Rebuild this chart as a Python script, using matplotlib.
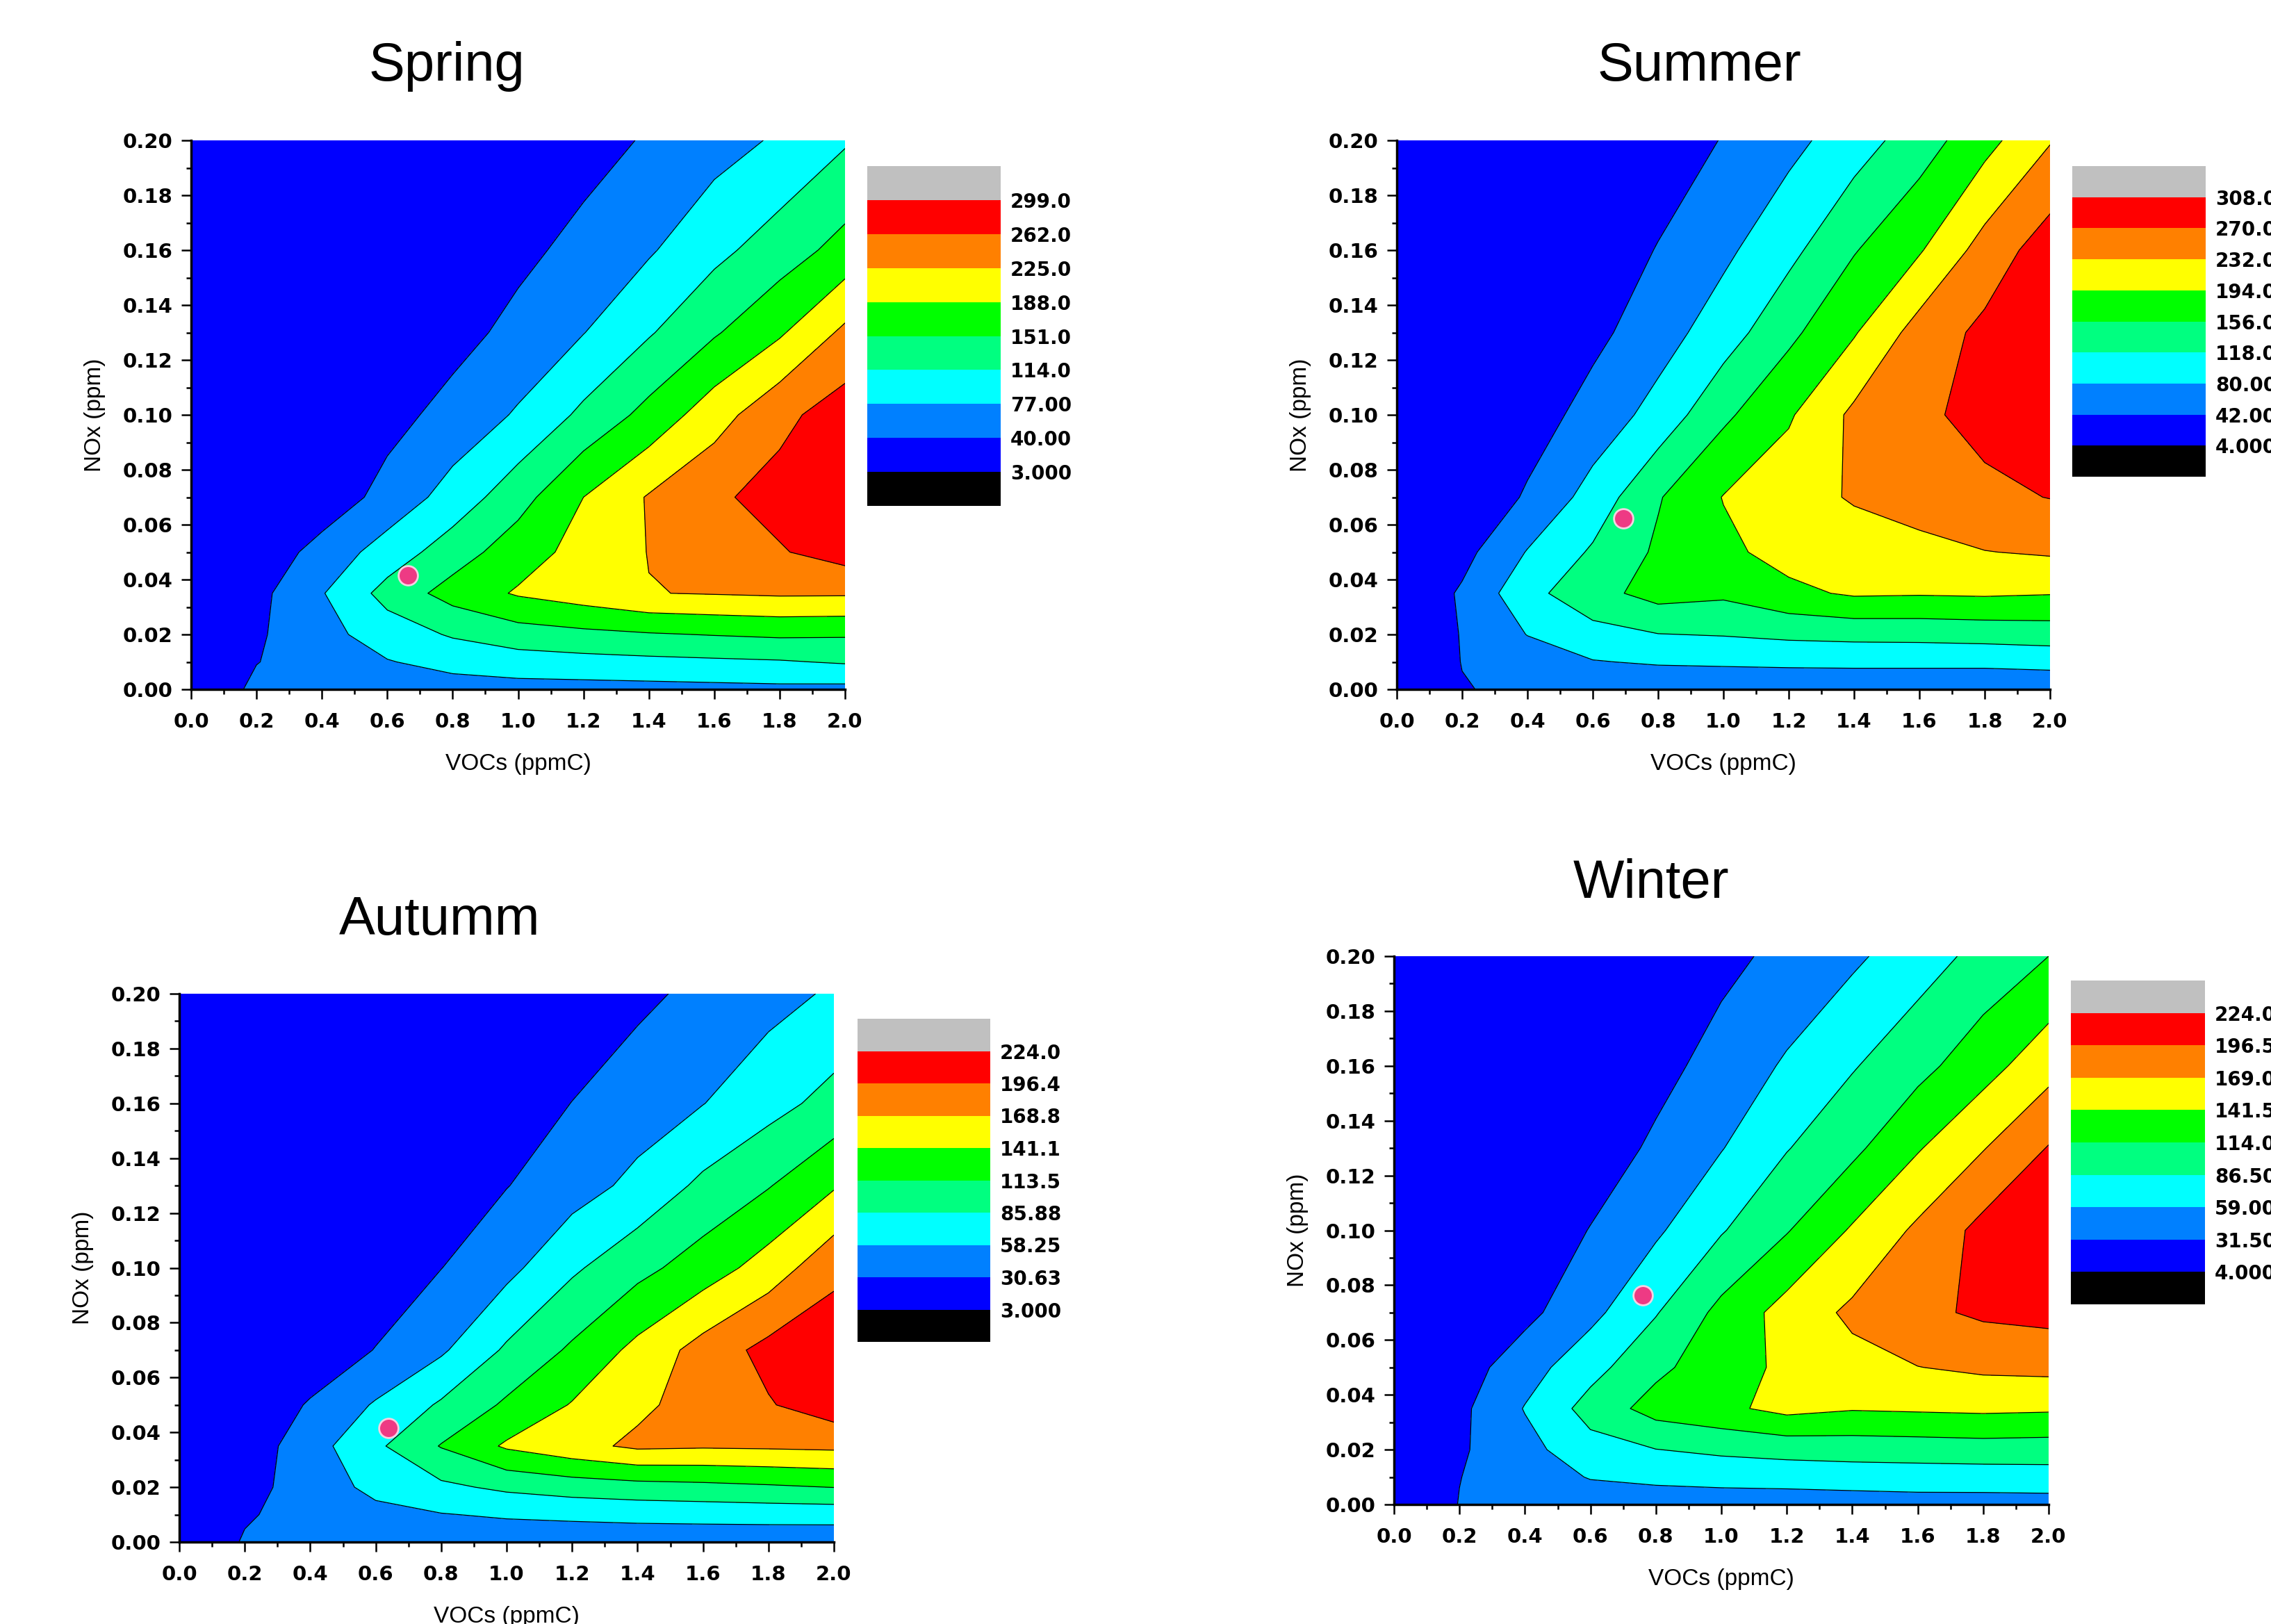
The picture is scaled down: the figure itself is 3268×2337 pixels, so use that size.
import numpy as np
import matplotlib
matplotlib.use('Agg')
import matplotlib.pyplot as plt
from matplotlib.colors import ListedColormap
from matplotlib.ticker import MultipleLocator

# grid of the isopleth diagrams
voc = [0.0, 0.2, 0.4, 0.6, 0.8, 1.0, 1.2, 1.4, 1.6, 1.8, 2.0]          # ppmC
nox = [0.0, 0.01, 0.02, 0.035, 0.05, 0.07, 0.10, 0.13, 0.16, 0.20]     # ppm

# O3 values (rows = NOx, columns = VOCs)
spring_o3 = [
    [8, 48, 50, 58, 61, 63.7, 63.8, 65, 66.7, 68.5, 67],
    [8, 39, 56.4, 75, 89, 97, 101.5, 105, 108, 111, 117.5],
    [8, 35, 64.7, 95, 117.8, 134.5, 142, 148, 152.6, 156.6, 155],
    [8, 29, 74.6, 127, 165.6, 192, 207, 224, 227, 230, 229.5],
    [6, 14, 54, 93, 133, 171, 201, 226, 242.6, 259, 278],
    [6, 6, 16, 53, 91.6, 136.5, 188, 228, 256, 275, 288],
    [6, 6, 6, 27, 53, 81, 122, 162.6, 209, 252.5, 280],
    [6, 6, 6, 6, 26.5, 51, 76, 110.5, 147, 183, 233],
    [6, 6, 6, 6, 9, 30.5, 51.6, 73, 104, 132.5, 164],
    [6, 6, 6, 6, 8, 8, 25, 44, 62, 82, 110],
]
summer_o3 = [
    [6, 40, 50, 50, 50, 50, 50, 50, 50, 50, 50],
    [6, 43, 60, 78, 84, 86, 88, 89, 89, 89, 93],
    [6, 44, 81, 105, 117, 120, 126, 129, 130, 133, 136],
    [6, 47, 106, 143, 170, 163, 185, 199, 197.3, 199, 196],
    [6, 30, 82, 123, 162, 185.4, 208, 213.6, 222, 231, 236],
    [6, 6, 47, 94.5, 153, 195.4, 217, 235.5, 247, 262, 271],
    [6, 6, 22.5, 56.7, 93.4, 148.4, 189.4, 240, 263, 281, 296],
    [6, 6, 6, 32, 63.4, 99.5, 147, 190.7, 248, 279, 298],
    [6, 6, 6, 16, 44, 72, 107.5, 153.5, 190.4, 247.6, 290],
    [6, 6, 6, 6, 19, 44, 69, 100, 137.7, 181, 229.5],
]
autumn_o3 = [
    [6, 33, 38, 40, 40, 40, 40, 40, 40, 40, 40],
    [6, 28, 40, 50, 57, 61.6, 64.2, 66.7, 67.9, 68.8, 69.2],
    [6, 22, 42, 66, 80.2, 91.2, 98.6, 103, 105.9, 109.7, 114],
    [6, 14, 46.4, 80.5, 115, 145, 160, 174, 172, 173.1, 174.8],
    [6, 6, 33.6, 61, 89.5, 117.9, 142.9, 163.4, 179.5, 194.2, 212],
    [6, 6, 9.7, 31.7, 54.1, 90, 117.8, 148.9, 179.5, 205, 215],
    [6, 6, 6, 10, 30.2, 50.2, 81.4, 105.1, 126.8, 152.9, 189],
    [6, 6, 6, 6, 13, 29.8, 46, 65.5, 91.9, 111.9, 138.4],
    [6, 6, 6, 6, 6, 17.4, 31, 44.2, 57.6, 76.3, 95],
    [6, 6, 6, 6, 6, 6, 13.3, 25, 36.9, 48.6, 62],
]
winter_o3 = [
    [6, 32.3, 40, 44, 44, 44, 44, 46, 48, 48, 48],
    [6, 31, 45, 60.5, 65.4, 68.6, 70.3, 71.7, 72.6, 73.1, 74.9],
    [6, 28, 50, 76.7, 86, 91.9, 96, 98.5, 99.9, 101.6, 100.5],
    [6, 25, 60.4, 96.8, 125, 135, 150, 143.6, 145.3, 147, 145.4],
    [6, 18.2, 47.1, 77, 107.4, 130.3, 146.6, 160, 168.5, 174, 176],
    [6, 6, 24, 51.3, 84.7, 121.7, 152, 174.5, 190.2, 201, 205],
    [6, 6, 10.6, 32.6, 54.6, 84.3, 112.2, 144.5, 174, 205, 215],
    [6, 6, 6, 15.3, 36.5, 57.7, 85.1, 107.4, 139.2, 167.6, 198],
    [6, 6, 6, 6, 22.3, 42.1, 62.3, 84.3, 105.3, 130.7, 159],
    [6, 6, 6, 6, 9, 24, 39, 53.9, 73.8, 94.8, 114],
]

spring_levels = [3, 40, 77, 114, 151, 188, 225, 262, 299]
summer_levels = [4, 42, 80, 118, 156, 194, 232, 270, 308]
autumn_levels = [3, 30.625, 58.25, 85.875, 113.5, 141.125, 168.75, 196.375, 224]
winter_levels = [4, 31.5, 59, 86.5, 114, 141.5, 169, 196.5, 224]

spring_labels = ['3.000', '40.00', '77.00', '114.0', '151.0', '188.0', '225.0', '262.0', '299.0']
summer_labels = ['4.000', '42.00', '80.00', '118.0', '156.0', '194.0', '232.0', '270.0', '308.0']
autumn_labels = ['3.000', '30.63', '58.25', '85.88', '113.5', '141.1', '168.8', '196.4', '224.0']
winter_labels = ['4.000', '31.50', '59.00', '86.50', '114.0', '141.5', '169.0', '196.5', '224.0']

# observed point (VOCs, NOx)
spring_pt = (0.663, 0.0414)
summer_pt = (0.693, 0.0622)
autumn_pt = (0.64, 0.0416)
winter_pt = (0.761, 0.0763)

band_colors = ['#0000FF', '#0080FF', '#00FFFF', '#00FF80',
               '#00FF00', '#FFFF00', '#FF8000', '#FF0000']
cmap = ListedColormap(band_colors)
cmap.set_under('#000000')
cmap.set_over('#C0C0C0')

W, H = 3268, 2337
fig = plt.figure(figsize=(W / 100, H / 100), dpi=100)


def box(l, t, r, b):
    return [l / W, 1 - b / H, (r - l) / W, (b - t) / H]


panels = [
    ('Spring', spring_o3, spring_levels, spring_labels, spring_pt,
     (275, 202, 1216, 992), (1248, 239, 1440, 728), (643, 116)),
    ('Summer', summer_o3, summer_levels, summer_labels, summer_pt,
     (2010, 202, 2950, 992), (2982, 239, 3174, 686), (2445, 116)),
    ('Autumm', autumn_o3, autumn_levels, autumn_labels, autumn_pt,
     (258, 1430, 1200, 2219), (1234, 1466, 1425, 1931), (633, 1345)),
    ('Winter', winter_o3, winter_levels, winter_labels, winter_pt,
     (2006, 1376, 2948, 2165), (2980, 1411, 3173, 1877), (2376, 1292)),
]

for title, z, levels, labels, pt, ax_px, cb_px, title_px in panels:
    ax = fig.add_axes(box(*ax_px))
    cf = ax.contourf(voc, nox, z, levels=levels, cmap=cmap, extend='both')
    ax.contour(voc, nox, z, levels=levels, colors='black', linewidths=0.9)
    ax.plot(pt[0], pt[1], 'o', ms=20, mfc='#EE3A84', mec='#F4D2E2', mew=2,
            zorder=5, clip_on=False)

    ax.set_xlim(0, 2)
    ax.set_ylim(0, 0.2)
    xt = np.linspace(0, 2, 11)
    yt = np.linspace(0, 0.2, 11)
    ax.set_xticks(xt)
    ax.set_yticks(yt)
    ax.set_xticklabels(['%.1f' % v for v in xt], fontweight='bold', fontsize=21)
    ax.set_yticklabels(['%.2f' % v for v in yt], fontweight='bold', fontsize=21)
    ax.xaxis.set_minor_locator(MultipleLocator(0.1))
    ax.yaxis.set_minor_locator(MultipleLocator(0.01))
    ax.tick_params(which='major', direction='out', length=10, width=1.8)
    ax.tick_params(which='minor', direction='out', length=5, width=1.8)
    ax.tick_params(axis='x', which='major', pad=14)
    ax.tick_params(axis='y', which='major', pad=9)
    for s in ['top', 'right']:
        ax.spines[s].set_visible(False)
    for s in ['left', 'bottom']:
        ax.spines[s].set_linewidth(2.5)

    ax.set_xlabel('VOCs (ppmC)', fontsize=24, family='Liberation Sans', labelpad=22)
    ax.set_ylabel('NOx (ppm)', fontsize=24, family='Liberation Sans', labelpad=18)

    cax = fig.add_axes(box(*cb_px))
    cb = fig.colorbar(cf, cax=cax, extendrect=True, extendfrac=0.125)
    cb.set_ticks(levels)
    cb.set_ticklabels(labels)
    cb.outline.set_visible(False)
    cb.ax.tick_params(length=0, pad=10)
    plt.setp(cb.ax.get_yticklabels(), fontweight='bold', fontsize=20)

    fig.text(title_px[0] / W, 1 - title_px[1] / H, title, ha='center', va='baseline',
             fontsize=56, family='Liberation Sans')

fig.savefig('out.png', dpi=100)
